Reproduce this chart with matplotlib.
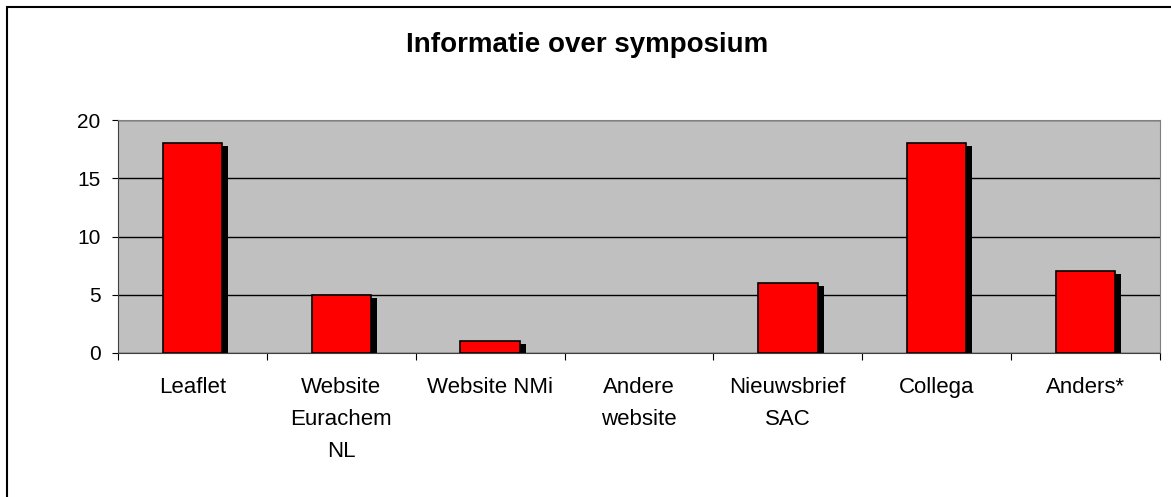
import numpy as np
import matplotlib
matplotlib.use("Agg")
import matplotlib.pyplot as plt
import matplotlib.transforms as mtransforms
from matplotlib.patches import Rectangle

plt.rcParams['font.family'] = ['Liberation Sans', 'DejaVu Sans']

# Données
categories = ["Leaflet", "Website\nEurachem\nNL", "Website NMi", "Andere\nwebsite",
              "Nieuwsbrief\nSAC", "Collega", "Anders*"]
aantallen = [18, 5, 1, 0, 6, 18, 7]

W, H = 1171, 497
fig = plt.figure(figsize=(W / 100, H / 100), dpi=100)
ax = fig.add_axes([118 / W, 1 - 353 / H, (1160 - 118) / W, (353 - 120) / H])
ax.set_facecolor('#C0C0C0')

x = np.arange(len(categories))
# schaduw achter de balken
shadow_tr = mtransforms.offset_copy(ax.transData, fig=fig, x=6, y=-3, units='dots')
ax.bar(x, aantallen, width=0.4, color='black', transform=shadow_tr, zorder=2)
# geen rand bij een waarde van 0
randen = [1.2 if v > 0 else 0 for v in aantallen]
ax.bar(x, aantallen, width=0.4, color='#FF0000', edgecolor='black', linewidth=randen, zorder=3)

ax.set_xlim(-0.5, len(categories) - 0.5)
ax.set_ylim(0, 20)
ax.set_yticks([0, 5, 10, 15, 20])
ax.yaxis.grid(True, color='black', linewidth=1)
ax.set_axisbelow(True)

ax.set_xticks(np.arange(len(categories) + 1) - 0.5)
ax.set_xticklabels([])
ax.set_xticks(x, minor=True)
ax.set_xticklabels(categories, minor=True, fontsize=16, linespacing=1.7, va='top')
ax.tick_params(axis='x', which='major', length=5, direction='out', color='black')
ax.tick_params(axis='x', which='minor', length=0, pad=17)
ax.tick_params(axis='y', length=4.5, labelsize=15, pad=8)

for side in ['top', 'right']:
    ax.spines[side].set_color('#808080')
for side in ['left', 'bottom']:
    ax.spines[side].set_color('#404040')

fig.text(587 / W, 1 - 52 / H, "Informatie over symposium", ha='center', va='baseline',
         fontsize=20, fontweight='bold')

# rand om de grafiek
fig.patches.append(Rectangle((7 / W, -0.1), 1.2, 1 - 7 / H + 0.1, transform=fig.transFigure,
                             fill=False, edgecolor='black', linewidth=1.5))

fig.savefig("out.png", dpi=100)
